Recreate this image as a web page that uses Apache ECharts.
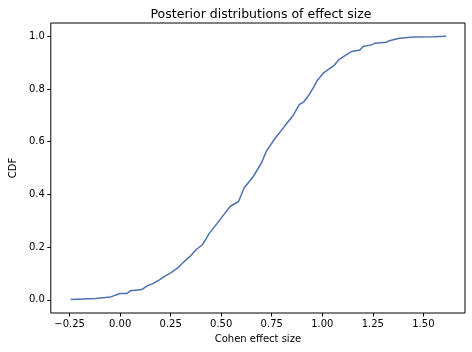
<!DOCTYPE html>
<html>
<head>
<meta charset="utf-8">
<script src="https://cdn.jsdelivr.net/npm/echarts@6/dist/echarts.min.js"></script>
</head>
<body style="margin:0;width:472px;height:352px;background:#fff">
<div id="container" style="width:472px;height:352px"></div>
<script>
// effect size (x) and cumulative probability (y)
var effectSize = [-0.245, -0.12, -0.047, 0.0, 0.034, 0.05, 0.107, 0.136, 0.164, 0.196, 0.22, 0.25,
  0.285, 0.318, 0.35, 0.375, 0.407, 0.428, 0.44, 0.48, 0.513, 0.545, 0.586, 0.613, 0.659, 0.699,
  0.723, 0.764, 0.813, 0.853, 0.886, 0.91, 0.935, 0.959, 0.975, 1.008, 1.057, 1.081, 1.097, 1.146,
  1.186, 1.202, 1.243, 1.259, 1.316, 1.332, 1.381, 1.454, 1.551, 1.613];
var cdf = [0.001, 0.005, 0.011, 0.024, 0.024, 0.034, 0.039, 0.054, 0.062, 0.077, 0.089, 0.102,
  0.121, 0.146, 0.168, 0.19, 0.209, 0.235, 0.251, 0.29, 0.323, 0.355, 0.373, 0.424, 0.468, 0.519,
  0.563, 0.61, 0.658, 0.696, 0.74, 0.752, 0.778, 0.809, 0.832, 0.862, 0.888, 0.91, 0.919, 0.942,
  0.948, 0.961, 0.967, 0.973, 0.977, 0.983, 0.992, 0.997, 0.998, 1.0];
var xTicks = [-0.25, 0, 0.25, 0.5, 0.75, 1.0, 1.25, 1.5];
var yTicks = [0, 0.2, 0.4, 0.6, 0.8, 1.0];

var points = effectSize.map(function (x, i) { return [x, cdf[i]]; });
var font = 'DejaVu Sans';
function fmt(d) {
  return function (v) { return v.toFixed(d).replace('-', '\u2212'); };
}

var chart = echarts.init(document.getElementById('container'));
chart.setOption({
  animation: false,
  title: {
    text: 'Posterior distributions of effect size',
    left: 256, top: 3, textAlign: 'center',
    textStyle: { fontFamily: font, fontSize: 12.5, fontWeight: 'normal', color: '#000' }
  },
  grid: {
    left: 46, right: 7, top: 23, bottom: 39,
    show: true, borderColor: '#000', borderWidth: 1
  },
  xAxis: {
    type: 'value', min: -0.343, max: 1.706,
    name: 'Cohen effect size', nameLocation: 'middle', nameGap: 21,
    nameTextStyle: { fontFamily: font, fontSize: 10, color: '#000' },
    axisLine: { show: false, onZero: false },
    splitLine: { show: false },
    axisTick: { show: true, length: 3.5, customValues: xTicks, lineStyle: { color: '#000' } },
    axisLabel: { customValues: xTicks, formatter: fmt(2), fontFamily: font, fontSize: 10, color: '#000', margin: 6 }
  },
  yAxis: {
    type: 'value', min: -0.05, max: 1.05,
    name: 'CDF', nameLocation: 'middle', nameGap: 31, nameRotate: 90,
    nameTextStyle: { fontFamily: font, fontSize: 10, color: '#000' },
    axisLine: { show: false, onZero: false },
    splitLine: { show: false },
    axisTick: { show: true, length: 3.5, customValues: yTicks, lineStyle: { color: '#000' } },
    axisLabel: { customValues: yTicks, formatter: fmt(1), fontFamily: font, fontSize: 10, color: '#000', margin: 6 }
  },
  series: [{
    type: 'line',
    data: points,
    showSymbol: false,
    lineStyle: { color: '#4c72b0', width: 1.5 }
  }]
});
</script>
</body>
</html>
